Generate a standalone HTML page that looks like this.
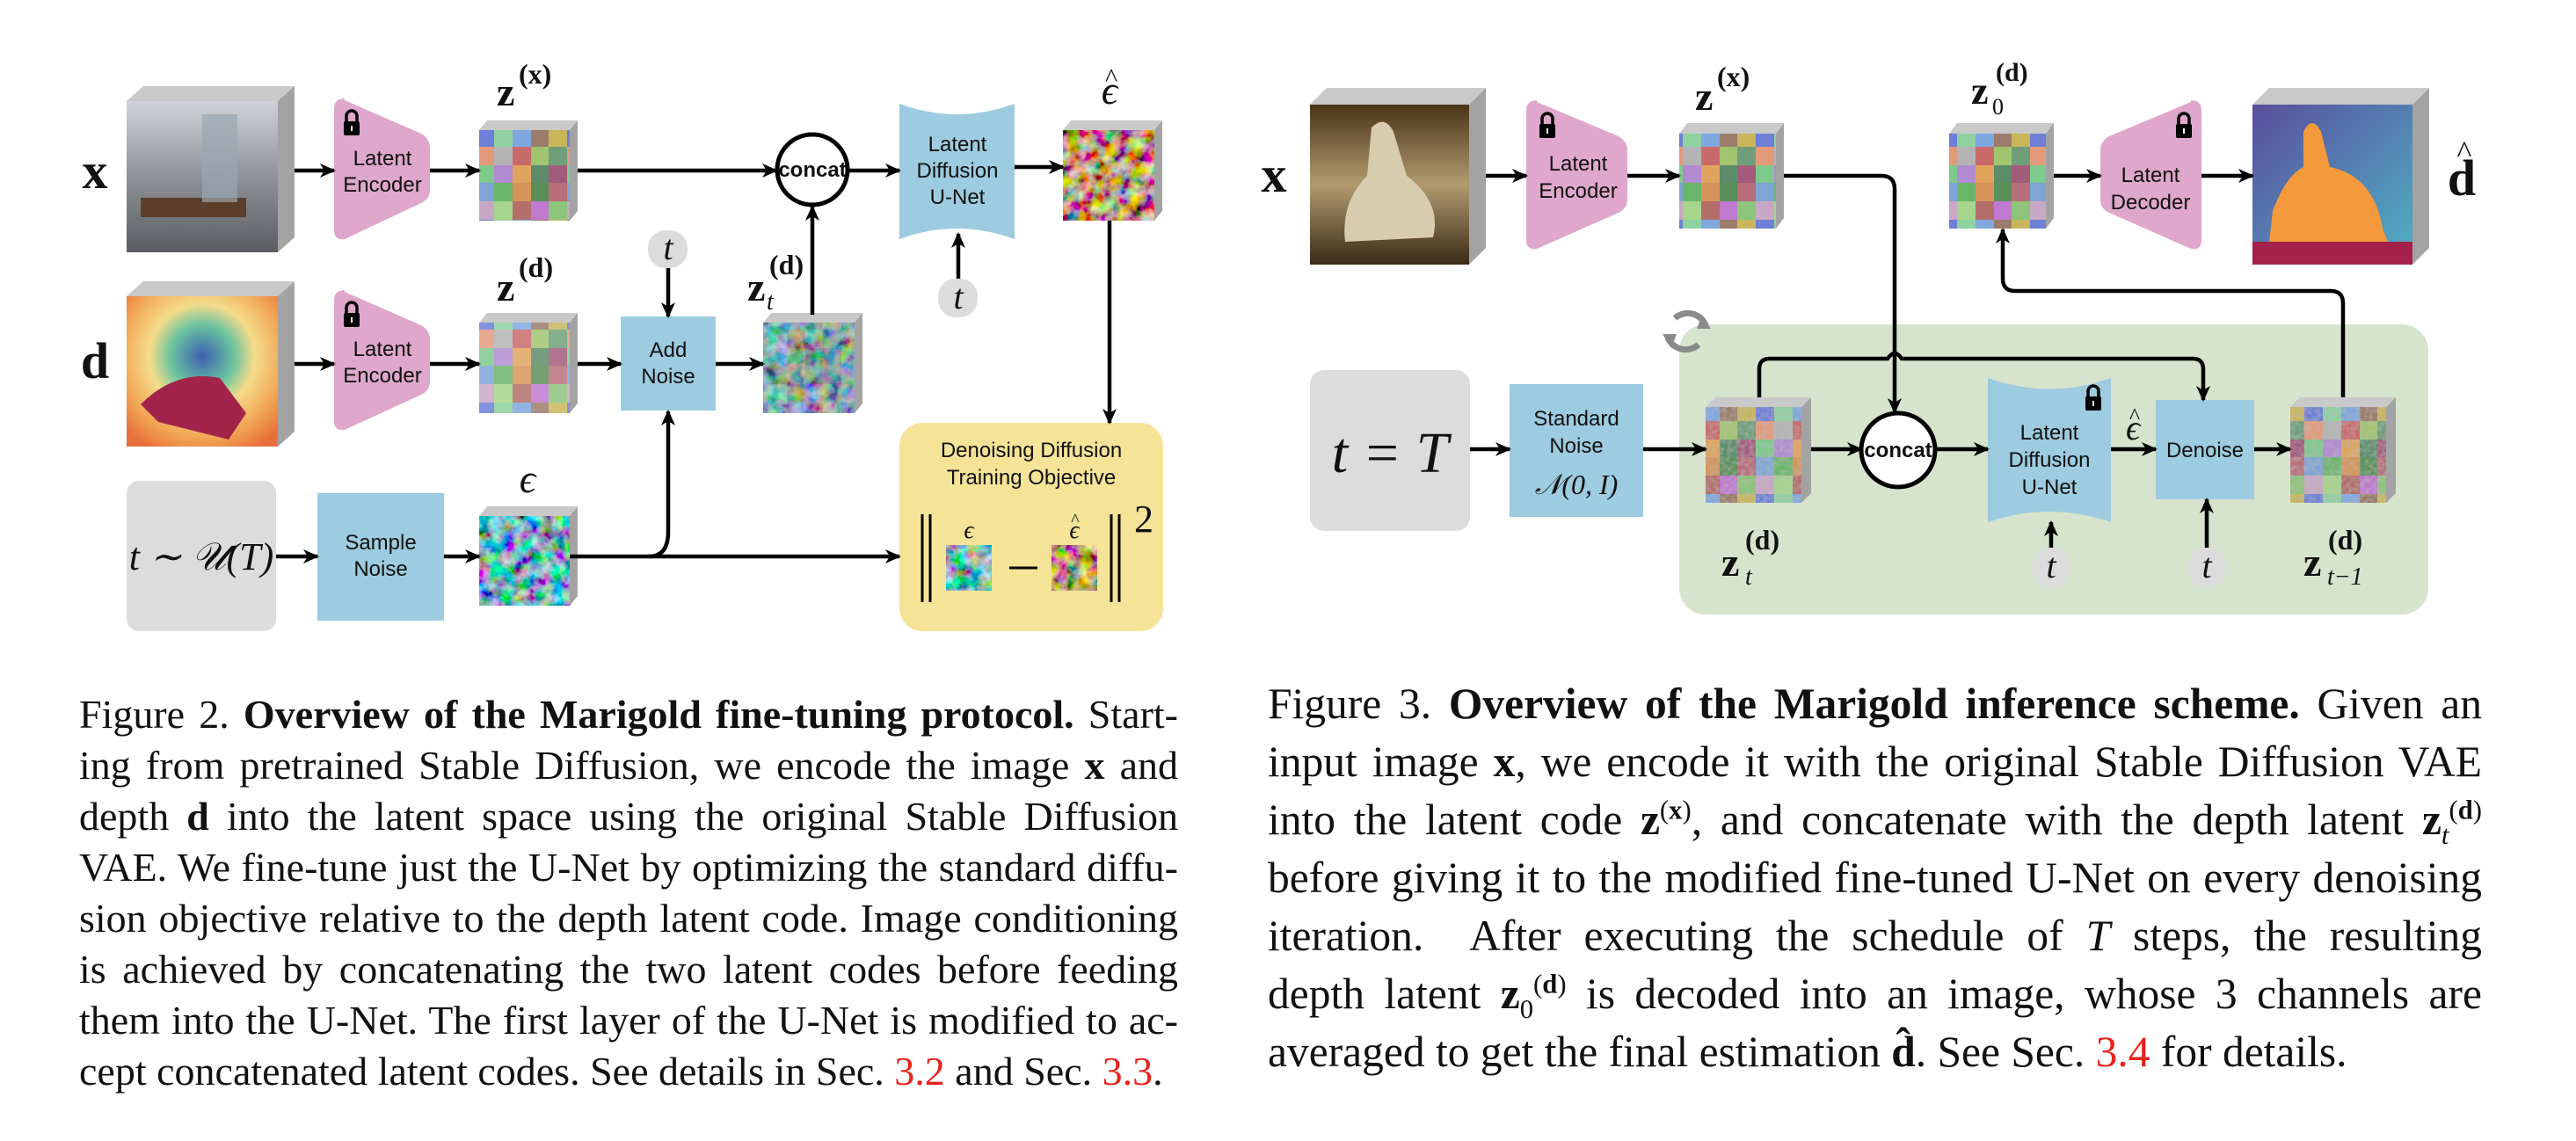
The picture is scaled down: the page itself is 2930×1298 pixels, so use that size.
<!DOCTYPE html>
<html><head><meta charset="utf-8"><style>
body{margin:0;background:#fff;width:2930px;height:1298px;overflow:hidden;position:relative}
svg{position:absolute;left:0;top:0}
.cap{position:absolute;font-family:"Liberation Serif",serif;color:#111}
.cap div{text-align:justify;text-align-last:justify;white-space:nowrap;overflow:visible}
.cap div.last{text-align-last:left}
.r{color:#e8221b}
sup,sub{font-size:62%;line-height:0}
</style></head><body>
<svg width="2930" height="740" viewBox="0 0 2930 740" xmlns="http://www.w3.org/2000/svg">
<defs>
<marker id="ah" markerUnits="userSpaceOnUse" markerWidth="18" markerHeight="16" refX="16" refY="8" orient="auto"><path d="M0,0 L18,8 L0,16 L5,8 Z" fill="#000"/></marker>
<pattern id="mos" width="104" height="104" patternUnits="userSpaceOnUse">
<rect width="104" height="104" fill="#9a8f7e"/>
<rect x="0" y="0" width="21" height="21" fill="#b86f7a"/><rect x="21" y="0" width="21" height="21" fill="#7fa4d6"/><rect x="42" y="0" width="21" height="21" fill="#6bb56a"/><rect x="63" y="0" width="21" height="21" fill="#d6945a"/><rect x="84" y="0" width="20" height="21" fill="#5b8f5a"/>
<rect x="0" y="21" width="21" height="21" fill="#8cc47a"/><rect x="21" y="21" width="21" height="21" fill="#c9a8c6"/><rect x="42" y="21" width="21" height="21" fill="#a6d58b"/><rect x="63" y="21" width="21" height="21" fill="#b36e6a"/><rect x="84" y="21" width="20" height="21" fill="#c07ad0"/>
<rect x="0" y="42" width="21" height="21" fill="#c9b65b"/><rect x="21" y="42" width="21" height="21" fill="#6d7fd6"/><rect x="42" y="42" width="21" height="21" fill="#8fd1a0"/><rect x="63" y="42" width="21" height="21" fill="#7fa7e0"/><rect x="84" y="42" width="20" height="21" fill="#9b7c6b"/>
<rect x="0" y="63" width="21" height="21" fill="#6f9e7a"/><rect x="21" y="63" width="21" height="21" fill="#e39a7b"/><rect x="42" y="63" width="21" height="21" fill="#b4b4b4"/><rect x="63" y="63" width="21" height="21" fill="#c96a6a"/><rect x="84" y="63" width="20" height="21" fill="#a2c46f"/>
<rect x="0" y="84" width="21" height="20" fill="#a25c7a"/><rect x="21" y="84" width="21" height="20" fill="#7ec98c"/><rect x="42" y="84" width="21" height="20" fill="#b18ad0"/><rect x="63" y="84" width="21" height="20" fill="#e0a45e"/><rect x="84" y="84" width="20" height="20" fill="#5d8c6a"/>
</pattern>
<filter id="nz" x="0" y="0" width="100%" height="100%"><feTurbulence type="fractalNoise" baseFrequency="0.07" numOctaves="3" seed="4"/><feColorMatrix type="matrix" values="1.6 0 0 0 -0.6  0 1.8 0 0 -0.45  0 0 1.8 0 -0.4  0 0 0 0 1"/></filter>
<filter id="nz2" x="0" y="0" width="100%" height="100%"><feTurbulence type="fractalNoise" baseFrequency="0.07" numOctaves="3" seed="9"/><feColorMatrix type="matrix" values="1.8 0 0 0 -0.4  0 1.8 0 0 -0.55  0 0 1.4 0 -0.5  0 0 0 0 1"/></filter>
<filter id="nzl" x="0" y="0" width="100%" height="100%"><feTurbulence type="fractalNoise" baseFrequency="0.2" numOctaves="2" seed="2"/><feColorMatrix type="matrix" values="0 0 0 0 0.5  0 0 0 0 0.5  0 0 0 0 0.5  1 0 0 0 -0.3"/></filter>
<linearGradient id="room" x1="0" y1="0" x2="0" y2="1"><stop offset="0" stop-color="#cfd2d6"/><stop offset="0.5" stop-color="#8f9399"/><stop offset="1" stop-color="#5a5c60"/></linearGradient>
<radialGradient id="depth" cx="0.5" cy="0.4" r="0.7"><stop offset="0" stop-color="#3d5fb0"/><stop offset="0.3" stop-color="#6bc3a0"/><stop offset="0.5" stop-color="#f5dc8a"/><stop offset="0.8" stop-color="#f0a050"/><stop offset="1" stop-color="#e8703c"/></radialGradient>
<linearGradient id="pieta" x1="0" y1="0" x2="0" y2="1"><stop offset="0" stop-color="#4a3418"/><stop offset="0.5" stop-color="#b39a70"/><stop offset="1" stop-color="#3b2a16"/></linearGradient>
<linearGradient id="dout" x1="0" y1="0" x2="1" y2="1"><stop offset="0" stop-color="#5a4e9e"/><stop offset="1" stop-color="#4fb1c4"/></linearGradient>
<g id="lock"><rect x="-9" y="-2" width="18" height="16" rx="2" fill="#000"/><path d="M-6,-2 V-8 A6,6 0 0 1 6,-8 V-2" fill="none" stroke="#000" stroke-width="3.5"/><rect x="-1" y="3" width="2" height="6" fill="#fff"/></g>
</defs>
<style>
.ln{stroke:#000;stroke-width:4.5;fill:none}
.lt{font-family:"Liberation Sans Narrow","Liberation Sans",sans-serif;font-size:24px;fill:#111;text-anchor:middle}
.mz{font-family:"Liberation Serif",serif;fill:#111}
.top{fill:#c9c9c9}.side{fill:#a3a3a3}
.blue{fill:#9dcbe0}
.pink{fill:#dea7cb}
</style>

<path class="top" d="M144,115 L163,98 L335,98 L316,115Z"/><path class="side" d="M316,115 L335,98 L335,270 L316,287Z"/>
<rect x="144" y="115" width="172" height="172" fill="url(#room)"/>
<rect x="160" y="225" width="120" height="22" fill="#5b3f2a"/><rect x="230" y="130" width="40" height="100" fill="#9aa6b4" opacity=".7"/>
<text class="mz" x="108" y="214" font-size="58" font-weight="bold" text-anchor="middle">x</text>
<path class="pink" d="M392,112 Q380,112 380,124 L380,262 Q380,274 392,272 L479,231 Q489,226 489,216 L489,168 Q489,158 479,152 L392,114Z"/>
<use href="#lock" x="400" y="140"/>
<text class="lt" x="435" y="188">Latent</text><text class="lt" x="435" y="218">Encoder</text>
<path class="top" d="M545,148 L554,137 L657,137 L648,148Z"/><path class="side" d="M648,148 L657,137 L657,240 L648,251Z"/>
<rect x="545" y="148" width="103" height="103" fill="url(#mos)"/>
<text class="mz" x="565" y="120" font-size="46" font-weight="bold">z</text><text class="mz" x="590" y="95" font-size="32" font-weight="bold">(x)</text>
<circle cx="924" cy="193" r="40" fill="#fff" stroke="#000" stroke-width="5"/>
<text class="lt" x="924" y="201" font-size="23" font-weight="bold">concat</text>
<path class="blue" d="M1023,118 Q1088,142 1154,118 L1154,272 Q1088,248 1023,272Z"/>
<text class="lt" x="1089" y="172">Latent</text><text class="lt" x="1089" y="202">Diffusion</text><text class="lt" x="1089" y="232">U-Net</text>
<path class="top" d="M1209,148 L1218,137 L1322,137 L1313,148Z"/><path class="side" d="M1313,148 L1322,137 L1322,240 L1313,251Z"/>
<rect x="1209" y="148" width="104" height="103" filter="url(#nz2)"/>
<text class="mz" x="1262" y="118" font-size="46" font-style="italic" text-anchor="middle">ϵ</text><text class="mz" x="1264" y="98" font-size="30" text-anchor="middle">^</text>
<path class="top" d="M144,337 L163,320 L335,320 L316,337Z"/><path class="side" d="M316,337 L335,320 L335,491 L316,508Z"/>
<rect x="144" y="337" width="172" height="171" fill="url(#depth)"/>
<path d="M160,460 Q200,420 250,430 L280,470 L260,500 L180,480Z" fill="#a3244a"/>
<text class="mz" x="108" y="430" font-size="58" font-weight="bold" text-anchor="middle">d</text>
<path class="pink" d="M392,330 Q380,330 380,342 L380,479 Q380,491 392,489 L479,449 Q489,444 489,434 L489,386 Q489,376 479,370 L392,332Z"/>
<use href="#lock" x="400" y="358"/>
<text class="lt" x="435" y="405">Latent</text><text class="lt" x="435" y="435">Encoder</text>
<path class="top" d="M545,367 L554,356 L657,356 L648,367Z"/><path class="side" d="M648,367 L657,356 L657,459 L648,470Z"/>
<rect x="545" y="367" width="103" height="103" fill="url(#mos)" opacity=".85"/>
<text class="mz" x="565" y="342" font-size="46" font-weight="bold">z</text><text class="mz" x="590" y="315" font-size="32" font-weight="bold">(d)</text>
<rect x="706" y="360" width="108" height="107" class="blue"/>
<text class="lt" x="760" y="406">Add</text><text class="lt" x="760" y="436">Noise</text>
<rect x="737" y="262" width="45" height="43" rx="20" fill="#dcdcdc"/><text class="mz" x="760" y="295" font-size="40" font-style="italic" text-anchor="middle">t</text>
<path class="top" d="M868,367 L877,356 L981,356 L972,367Z"/><path class="side" d="M972,367 L981,356 L981,459 L972,470Z"/>
<rect x="868" y="367" width="104" height="103" fill="url(#mos)"/><rect x="868" y="367" width="104" height="103" filter="url(#nz)" opacity=".6"/>
<text class="mz" x="850" y="342" font-size="46" font-weight="bold">z</text><text class="mz" x="875" y="312" font-size="32" font-weight="bold">(d)</text><text class="mz" x="872" y="352" font-size="28" font-style="italic">t</text>
<rect x="1067" y="317" width="45" height="44" rx="20" fill="#dcdcdc"/><text class="mz" x="1090" y="351" font-size="40" font-style="italic" text-anchor="middle">t</text>
<rect x="144" y="547" width="170" height="171" rx="14" fill="#dcdcdc"/>
<text class="mz" x="229" y="648" font-size="44" font-style="italic" text-anchor="middle">t ∼ 𝒰(T)</text>
<rect x="361" y="561" width="144" height="145" class="blue"/>
<text class="lt" x="433" y="625">Sample</text><text class="lt" x="433" y="655">Noise</text>
<path class="top" d="M545,587 L554,576 L657,576 L648,587Z"/><path class="side" d="M648,587 L657,576 L657,678 L648,689Z"/>
<rect x="545" y="587" width="103" height="102" filter="url(#nz)"/>
<text class="mz" x="600" y="560" font-size="46" font-style="italic" text-anchor="middle">ϵ</text>
<rect x="1023" y="481" width="300" height="237" rx="26" fill="#f5e398"/>
<text class="lt" x="1173" y="520">Denoising Diffusion</text><text class="lt" x="1173" y="551">Training Objective</text>
<path d="M1049,585 V685 M1058,585 V685 M1264,585 V685 M1273,585 V685" stroke="#000" stroke-width="3"/>
<rect x="1076" y="620" width="52" height="52" filter="url(#nz)"/><rect x="1196" y="620" width="52" height="52" filter="url(#nz2)"/>
<text class="mz" x="1102" y="612" font-size="28" font-style="italic" text-anchor="middle">ϵ</text><text class="mz" x="1222" y="612" font-size="28" font-style="italic" text-anchor="middle">ϵ</text><text class="mz" x="1223" y="598" font-size="20" text-anchor="middle">^</text>
<path d="M1148,646 H1180" stroke="#000" stroke-width="3"/>
<text class="mz" x="1290" y="605" font-size="44">2</text>
<path class="ln" marker-end="url(#ah)" d="M335,194 H380"/><path class="ln" marker-end="url(#ah)" d="M489,194 H545"/>
<path class="ln" marker-end="url(#ah)" d="M657,194 H883"/><path class="ln" marker-end="url(#ah)" d="M966,194 H1023"/>
<path class="ln" stroke-width="3" marker-end="url(#ah)" d="M1154,190 H1209"/>
<path class="ln" marker-end="url(#ah)" d="M924,358 V235"/>
<path class="ln" stroke-width="3.5" marker-end="url(#ah)" d="M1090,317 V266"/>
<path class="ln" stroke-width="3.5" marker-end="url(#ah)" d="M1262,251 V481"/>
<path class="ln" marker-end="url(#ah)" d="M335,414 H380"/><path class="ln" marker-end="url(#ah)" d="M489,414 H545"/>
<path class="ln" marker-end="url(#ah)" d="M657,414 H706"/><path class="ln" marker-end="url(#ah)" d="M814,414 H868"/>
<path class="ln" stroke-width="3.5" marker-end="url(#ah)" d="M760,305 V360"/>
<path class="ln" marker-end="url(#ah)" d="M314,633 H361"/><path class="ln" marker-end="url(#ah)" d="M505,633 H545"/>
<path class="ln" marker-end="url(#ah)" d="M648,633 H1023"/>
<path class="ln" stroke-width="3.5" marker-end="url(#ah)" d="M738,633 Q760,633 760,605 V468"/>

<rect x="1910" y="369" width="852" height="330" rx="30" fill="#d7e3cd"/>
<g fill="none" stroke="#8a8a8a" stroke-width="7"><path d="M1905,362 A22,22 0 0 1 1940,370"/><path d="M1932,392 A22,22 0 0 1 1897,384"/></g>
<path d="M1936,358 L1946,374 L1930,374Z M1901,396 L1891,380 L1907,380Z" fill="#8a8a8a"/>
<path class="top" d="M1490,119 L1509,100 L1690,100 L1671,119Z"/><path class="side" d="M1671,119 L1690,100 L1690,282 L1671,301Z"/>
<rect x="1490" y="119" width="181" height="182" fill="url(#pieta)"/>
<path d="M1560,145 Q1575,130 1585,150 L1600,200 Q1640,230 1630,270 L1530,275 Q1525,230 1555,200Z" fill="#d8ccb0"/>
<text class="mz" x="1449" y="218" font-size="58" font-weight="bold" text-anchor="middle">x</text>
<path class="pink" d="M1748,114 Q1736,114 1736,126 L1736,273 Q1736,285 1748,283 L1841,242 Q1851,237 1851,227 L1851,171 Q1851,161 1841,155 L1748,116Z"/>
<use href="#lock" x="1760" y="143"/>
<text class="lt" x="1795" y="194">Latent</text><text class="lt" x="1795" y="225">Encoder</text>
<path class="top" d="M1910,152 L1919,140 L2029,140 L2020,152Z"/><path class="side" d="M2020,152 L2029,140 L2029,248 L2020,260Z"/>
<rect x="1910" y="152" width="110" height="108" fill="url(#mos)"/>
<text class="mz" x="1928" y="125" font-size="46" font-weight="bold">z</text><text class="mz" x="1953" y="98" font-size="32" font-weight="bold">(x)</text>
<path class="top" d="M2217,152 L2226,140 L2336,140 L2327,152Z"/><path class="side" d="M2327,152 L2336,140 L2336,248 L2327,260Z"/>
<rect x="2217" y="152" width="110" height="108" fill="url(#mos)"/>
<text class="mz" x="2242" y="118" font-size="44" font-weight="bold">z</text><text class="mz" x="2270" y="92" font-size="30" font-weight="bold">(d)</text><text class="mz" x="2266" y="130" font-size="26">0</text>
<path class="pink" d="M2492,114 Q2504,114 2504,126 L2504,273 Q2504,285 2492,283 L2399,242 Q2389,237 2389,227 L2389,171 Q2389,161 2399,155 L2492,116Z"/>
<use href="#lock" x="2484" y="143"/>
<text class="lt" x="2446" y="207">Latent</text><text class="lt" x="2446" y="238">Decoder</text>
<path class="top" d="M2562,119 L2581,100 L2763,100 L2744,119Z"/><path class="side" d="M2744,119 L2763,100 L2763,282 L2744,301Z"/>
<rect x="2562" y="119" width="182" height="182" fill="url(#dout)"/>
<path d="M2620,150 Q2630,130 2640,150 L2650,190 Q2700,200 2710,260 L2720,285 L2580,285 L2585,240 Q2600,200 2620,190Z" fill="#f49a3c"/>
<rect x="2562" y="275" width="182" height="26" fill="#a3214a"/>
<text class="mz" x="2800" y="222" font-size="58" font-weight="bold" text-anchor="middle">d</text><text class="mz" x="2803" y="185" font-size="36" text-anchor="middle">^</text>
<rect x="1490" y="421" width="182" height="183" rx="16" fill="#dcdcdc"/>
<text class="mz" x="1581" y="537" font-size="66" font-style="italic" text-anchor="middle">t = T</text>
<rect x="1717" y="437" width="152" height="151" class="blue"/>
<text class="lt" x="1793" y="484">Standard</text><text class="lt" x="1793" y="515">Noise</text>
<text class="mz" x="1793" y="562" font-size="32" font-style="italic" text-anchor="middle">𝒩(0, I)</text>
<path class="top" d="M1940,463 L1951,452 L2060,452 L2049,463Z"/><path class="side" d="M2049,463 L2060,452 L2060,561 L2049,572Z"/>
<rect x="1940" y="463" width="109" height="109" fill="url(#mos)"/><rect x="1940" y="463" width="109" height="109" filter="url(#nzl)"/>
<text class="mz" x="1958" y="655" font-size="46" font-weight="bold">z</text><text class="mz" x="1985" y="625" font-size="32" font-weight="bold">(d)</text><text class="mz" x="1985" y="665" font-size="28" font-style="italic">t</text>
<circle cx="2159" cy="512" r="42" fill="#fff" stroke="#000" stroke-width="5"/>
<text class="lt" x="2159" y="520" font-size="23" font-weight="bold">concat</text>
<path class="blue" d="M2261,430 Q2331,455 2401,430 L2401,594 Q2331,570 2261,594Z"/>
<use href="#lock" x="2381" y="453"/>
<text class="lt" x="2331" y="500">Latent</text><text class="lt" x="2331" y="531">Diffusion</text><text class="lt" x="2331" y="562">U-Net</text>
<text class="mz" x="2426" y="500" font-size="40" font-style="italic" text-anchor="middle">ϵ</text><text class="mz" x="2428" y="482" font-size="26" text-anchor="middle">^</text>
<rect x="2452" y="455" width="112" height="113" class="blue"/>
<text class="lt" x="2508" y="520">Denoise</text>
<path class="top" d="M2605,463 L2616,452 L2725,452 L2714,463Z"/><path class="side" d="M2714,463 L2725,452 L2725,561 L2714,572Z"/>
<rect x="2605" y="463" width="109" height="109" fill="url(#mos)"/><rect x="2605" y="463" width="109" height="109" filter="url(#nzl)"/>
<text class="mz" x="2620" y="655" font-size="46" font-weight="bold">z</text><text class="mz" x="2648" y="625" font-size="32" font-weight="bold">(d)</text><text class="mz" x="2647" y="665" font-size="28" font-style="italic">t−1</text>
<rect x="2312" y="623" width="42" height="46" rx="20" fill="#dcdcdc"/><text class="mz" x="2333" y="657" font-size="40" font-style="italic" text-anchor="middle">t</text>
<rect x="2489" y="623" width="42" height="46" rx="20" fill="#dcdcdc"/><text class="mz" x="2510" y="657" font-size="40" font-style="italic" text-anchor="middle">t</text>
<path class="ln" marker-end="url(#ah)" d="M1690,200 H1736"/><path class="ln" marker-end="url(#ah)" d="M1851,200 H1910"/>
<path class="ln" marker-end="url(#ah)" d="M2336,200 H2389"/><path class="ln" marker-end="url(#ah)" d="M2504,200 H2562"/>
<path class="ln" marker-end="url(#ah)" d="M2029,200 H2140 Q2155,200 2155,215 V469"/>
<path class="ln" marker-end="url(#ah)" d="M1672,511 H1717"/><path class="ln" marker-end="url(#ah)" d="M1869,511 H1940"/>
<path class="ln" marker-end="url(#ah)" d="M2060,511 H2117"/><path class="ln" marker-end="url(#ah)" d="M2201,511 H2261"/>
<path class="ln" marker-end="url(#ah)" d="M2401,511 H2452"/><path class="ln" marker-end="url(#ah)" d="M2564,511 H2605"/>
<path class="ln" stroke-width="3.5" marker-end="url(#ah)" d="M2333,623 V594"/>
<path class="ln" stroke-width="3.5" marker-end="url(#ah)" d="M2510,623 V568"/>
<path class="ln" stroke-width="3.5" marker-end="url(#ah)" d="M2001,452 V420 Q2001,408 2013,408 H2147 Q2155,396 2163,408 H2494 Q2506,408 2506,420 V455"/>
<path class="ln" stroke-width="3.5" marker-end="url(#ah)" d="M2665,452 V345 Q2665,331 2651,331 H2292 Q2278,331 2278,317 V261"/>
</svg>

<div class="cap" style="left:90px;top:784px;width:1250px;font-size:46px;line-height:58px">
<div>Figure 2. <b>Overview of the Marigold fine-tuning protocol.</b> Start-</div>
<div>ing from pretrained Stable Diffusion, we encode the image <b>x</b> and</div>
<div>depth <b>d</b> into the latent space using the original Stable Diffusion</div>
<div>VAE. We fine-tune just the U-Net by optimizing the standard diffu-</div>
<div>sion objective relative to the depth latent code. Image conditioning</div>
<div>is achieved by concatenating the two latent codes before feeding</div>
<div>them into the U-Net. The first layer of the U-Net is modified to ac-</div>
<div class="last">cept concatenated latent codes. See details in Sec. <span class="r">3.2</span> and Sec. <span class="r">3.3</span>.</div>
</div>
<div class="cap" style="left:1442px;top:768px;width:1381px;font-size:49.5px;line-height:66px">
<div>Figure 3. <b>Overview of the Marigold inference scheme.</b> Given an</div>
<div>input image <b>x</b>, we encode it with the original Stable Diffusion VAE</div>
<div>into the latent code <b>z</b><sup>(<b>x</b>)</sup>, and concatenate with the depth latent <b>z</b><sub><i>t</i></sub><sup>(<b>d</b>)</sup></div>
<div>before giving it to the modified fine-tuned U-Net on every denoising</div>
<div>iteration. &nbsp;After executing the schedule of <i>T</i> steps, the resulting</div>
<div>depth latent <b>z</b><sub>0</sub><sup>(<b>d</b>)</sup> is decoded into an image, whose 3 channels are</div>
<div class="last">averaged to get the final estimation <b>d̂</b>. See Sec. <span class="r">3.4</span> for details.</div>
</div>
</body></html>
